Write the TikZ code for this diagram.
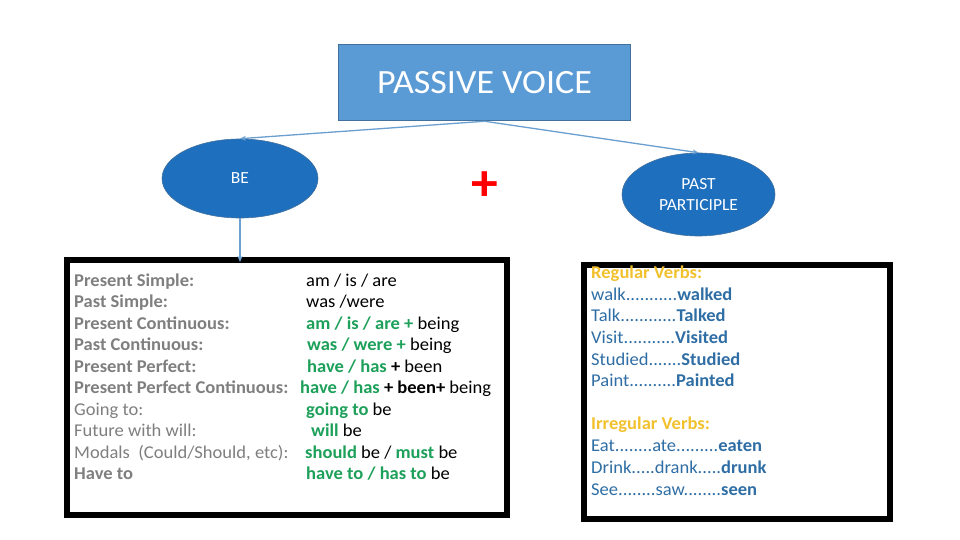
\documentclass[tikz,border=0pt]{standalone}
\usepackage{fontspec}
\setmainfont{Carlito}[FakeStretch=1.03]
\newfontfamily\titlefont{Carlito}[FakeStretch=1.06]
\usetikzlibrary{arrows.meta,shapes.geometric}
\definecolor{titlefill}{HTML}{5B9BD5}
\definecolor{titledraw}{HTML}{41719C}
\definecolor{ellfill}{HTML}{1F6FBF}
\definecolor{arrowc}{HTML}{6A9FD0}
\definecolor{labgray}{HTML}{7F7F7F}
\definecolor{verbgreen}{HTML}{1DA05A}
\definecolor{gold}{HTML}{F2C12E}
\definecolor{verbblue}{HTML}{2F6EA5}
\newcommand{\gb}[1]{\textcolor{verbgreen}{\textbf{#1}}}
\tikzset{
  txt/.style={anchor=base west, inner sep=0pt, font=\fontsize{18}{21}\selectfont},
  lab/.style={txt, text=labgray, font=\fontsize{18}{21}\selectfont\bfseries},
  labr/.style={txt, text=labgray},
  rt/.style={txt, text=verbblue},
  head/.style={txt, text=gold, font=\fontsize{18}{21}\selectfont\bfseries},
  ell/.style={ellipse, fill=ellfill, draw=titledraw, line width=0.6pt, text=white, font=\fontsize{17}{21}\selectfont, align=center, inner sep=0pt},
  conn/.style={draw=arrowc, line width=1.3pt, -{Stealth[length=6pt,width=5pt]}},
  bigbox/.style={draw=black, line width=6pt, fill=white, inner sep=0pt}
}
\begin{document}
\begin{tikzpicture}[x=1pt,y=-1pt]
\useasboundingbox[fill=white] (0,0) rectangle (960,540);
% boxes
\node[bigbox, minimum width=440pt, minimum height=255.5pt] (lbox) at (286.5,387.25) {};
\node[bigbox, minimum width=306pt, minimum height=253.5pt] (rbox) at (736.5,391.75) {};
% title
\node[fill=titlefill, draw=titledraw, line width=1.5pt, minimum width=292pt, minimum height=76pt, text=white, font=\titlefont\fontsize{34}{40}\selectfont] (title) at (484.5,82.5) {PASSIVE VOICE};
% ellipses
\node[ell, minimum width=156pt, minimum height=79pt] (be) at (240,178.5) {BE};
\node[ell, minimum width=153pt, minimum height=83pt] (pp) at (698.5,194.5) {PAST\\PARTICIPLE};
\node[text=red, font=\fontsize{52}{52}\selectfont\bfseries, inner sep=0pt] (plus) at (485,186) {+};
% connectors
\coordinate (boxtop) at (240,262);
\draw[conn] (title.south) -- (be.north);
\draw[conn] (title.south) -- (pp.north);
\draw[conn] (be.south) -- (boxtop);
% left labels
\node[lab] (l1) at (74,286) {Present Simple:};
\node[lab] (l2) at (74,307.5) {Past Simple:};
\node[lab] (l3) at (74,329) {Present Continuous:};
\node[lab] (l4) at (74,350.5) {Past Continuous:};
\node[lab] (l5) at (74,372) {Present Perfect:};
\node[lab] (l6) at (74,393.5) {Present Perfect Continuous:};
\node[labr] (l7) at (74,415) {Going to:};
\node[labr] (l8) at (74,436.5) {Future with will:};
\node[labr] (l9) at (74,458) {Modals~~(Could/Should, etc):};
\node[lab] (l10) at (74,479.5) {Have to};
% left values
\node[txt] (v1) at (306,286) {am / is / are};
\node[txt] (v2) at (306,307.5) {was /were};
\node[txt] (v3) at (306,329) {\gb{am / is / are +} being};
\node[txt] (v4) at (307,350.5) {\gb{was / were +} being};
\node[txt] (v5) at (307,372) {\gb{have / has} \textbf{+} been};
\node[txt] (v6) at (300,393.5) {\gb{have / has} \textbf{+ been+} being};
\node[txt] (v7) at (306,415) {\gb{going to} be};
\node[txt] (v8) at (311,436.5) {\gb{will} be};
\node[txt] (v9) at (305,458) {\gb{should} be / \gb{must} be};
\node[txt] (v10) at (306,479.5) {\gb{have to / has to} be};
% right text
\node[head] (r0) at (591,278) {Regular Verbs:};
\node[rt] (r1) at (591,300) {walk...........\textbf{walked}};
\node[rt] (r2) at (591,321) {Talk............\textbf{Talked}};
\node[rt] (r3) at (591,343) {Visit...........\textbf{Visited}};
\node[rt] (r4) at (591,365) {Studied.......\textbf{Studied}};
\node[rt] (r5) at (591,386) {Paint..........\textbf{Painted}};
\node[head] (r6) at (591,429) {Irregular Verbs:};
\node[rt] (r7) at (591,451) {Eat........ate.........\textbf{eaten}};
\node[rt] (r8) at (591,473) {Drink.....drank.....\textbf{drunk}};
\node[rt] (r9) at (591,495) {See........saw........\textbf{seen}};
\end{tikzpicture}
\end{document}
